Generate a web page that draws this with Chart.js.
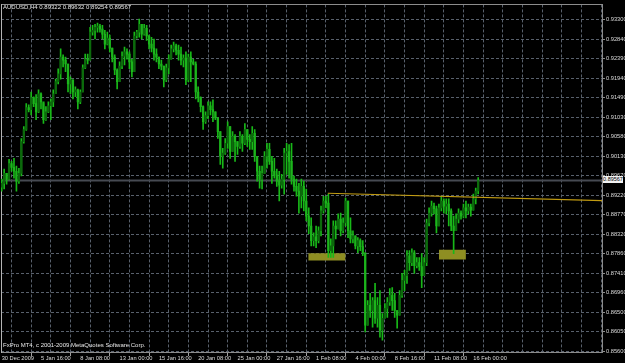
<!DOCTYPE html>
<html>
<head>
<meta charset="utf-8">
<script src="https://cdn.jsdelivr.net/npm/chart.js@4.4.1/dist/chart.umd.min.js"></script>
<style>
  html, body { margin: 0; padding: 0; background: #000; }
  #wrap { position: relative; width: 625px; height: 363px; background: #000; overflow: hidden; }
  #wrap canvas { position: absolute; left: 0; top: 0; }
  .txt { position: absolute; font-family: "Liberation Sans", Arial, sans-serif; font-size: 6px; line-height: 7px; color: #e6e6e6; white-space: nowrap; }
  #bidbox { position: absolute; left: 603px; top: 175.5px; width: 20px; height: 7px; background: #f2f2f2; color: #000; font-family: "Liberation Sans", Arial, sans-serif; font-size: 5.5px; line-height: 7px; text-align: center; }
</style>
</head>
<body>
<div id="wrap">
  <canvas id="c" width="625" height="363"></canvas>
  <div class="txt" style="left:3px;top:4px;">AUDUSD,H4 0.89322 0.89632 0.89254 0.89567</div>
  <div class="txt" style="left:3px;top:341.5px;">FxPro MT4, c 2001-2009 MetaQuotes Software Corp.</div>
  <div id="bidbox">0.89567</div>
</div>
<script>
// ---- data ----
const X_LABELS = ["30 Dec 2009","5 Jan 16:00","8 Jan 08:00","13 Jan 00:00","15 Jan 16:00","20 Jan 08:00","25 Jan 00:00","27 Jan 16:00","1 Feb 08:00","4 Feb 00:00","8 Feb 16:00","11 Feb 08:00","16 Feb 00:00"];
const PRICE_LABELS = ["0.85600","0.86050","0.86500","0.86960","0.87410","0.87860","0.88320","0.88770","0.89220","0.89670","0.90130","0.90580","0.91030","0.91490","0.91940","0.92390","0.92840","0.93300"];
const PRICE_LO = 0.856, PRICE_HI = 0.933;
const BID = 0.89567;

const OPEN = [0.8941,0.8950,0.8973,0.8960,0.8996,0.8987,0.8978,0.8955,0.8973,0.9047,
0.9075,0.9126,0.9121,0.9149,0.9135,0.9116,0.9158,0.9139,0.9098,0.9116,
0.9130,0.9139,0.9158,0.9186,0.9204,0.9243,0.9236,0.9227,0.9181,0.9190,
0.9162,0.9167,0.9139,0.9162,0.9218,0.9238,0.9236,0.9301,0.9305,0.9312,
0.9315,0.9308,0.9296,0.9273,0.9287,0.9264,0.9243,0.9213,0.9186,0.9222,
0.9245,0.9255,0.9250,0.9232,0.9209,0.9292,0.9301,0.9319,0.9296,0.9310,
0.9292,0.9273,0.9264,0.9250,0.9243,0.9227,0.9222,0.9190,0.9218,0.9238,
0.9262,0.9269,0.9259,0.9250,0.9236,0.9241,0.9190,0.9243,0.9232,0.9227,
0.9162,0.9149,0.9128,0.9093,0.9107,0.9130,0.9121,0.9116,0.9102,0.9070,
0.9013,0.9020,0.9043,0.9082,0.9024,0.9059,0.9047,0.9036,0.9059,0.9043,
0.9075,0.9052,0.9047,0.9066,0.9013,0.8978,0.8960,0.8973,0.9013,0.9029,
0.9001,0.8978,0.8969,0.8955,0.8946,0.8960,0.9020,0.9024,0.9001,0.8960,
0.8943,0.8932,0.8920,0.8943,0.8909,0.8874,0.8851,0.8817,0.8826,0.8817,
0.8840,0.8886,0.8909,0.8904,0.8794,0.8805,0.8851,0.8844,0.8867,0.8840,
0.8858,0.8909,0.8840,0.8821,0.8828,0.8805,0.8817,0.8803,0.8789,0.8621,
0.8667,0.8655,0.8678,0.8637,0.8667,0.8609,0.8637,0.8660,0.8674,0.8690,
0.8678,0.8655,0.8644,0.8690,0.8725,0.8736,0.8782,0.8766,0.8789,0.8759,
0.8766,0.8757,0.8736,0.8766,0.8858,0.8881,0.8897,0.8891,0.8851,0.8893,
0.8909,0.8897,0.8902,0.8886,0.8851,0.8840,0.8867,0.8881,0.8874,0.8893,
0.8886,0.8895,0.8888,0.8914,0.89322];

const HIGH = [0.8960,0.8983,0.8973,0.9006,0.9001,0.9008,0.8990,0.8985,0.9054,0.9082,
0.9135,0.9132,0.9162,0.9151,0.9156,0.9167,0.9160,0.9135,0.9128,0.9139,
0.9146,0.9167,0.9192,0.9216,0.9262,0.9248,0.9243,0.9227,0.9197,0.9190,
0.9174,0.9169,0.9167,0.9225,0.9250,0.9250,0.9312,0.9317,0.9319,0.9322,
0.9319,0.9317,0.9305,0.9301,0.9294,0.9264,0.9248,0.9216,0.9232,0.9255,
0.9266,0.9262,0.9255,0.9238,0.9301,0.9305,0.9331,0.9319,0.9319,0.9317,
0.9294,0.9289,0.9285,0.9262,0.9243,0.9236,0.9222,0.9227,0.9248,0.9271,
0.9278,0.9273,0.9271,0.9266,0.9248,0.9255,0.9250,0.9255,0.9238,0.9232,
0.9174,0.9151,0.9130,0.9116,0.9139,0.9139,0.9144,0.9116,0.9102,0.9070,
0.9031,0.9054,0.9093,0.9082,0.9070,0.9063,0.9047,0.9070,0.9063,0.9089,
0.9075,0.9063,0.9082,0.9075,0.9013,0.8990,0.8990,0.9024,0.9043,0.9043,
0.9013,0.9008,0.8983,0.8978,0.8971,0.9031,0.9043,0.9040,0.9043,0.8967,
0.8960,0.8950,0.8960,0.8955,0.8937,0.8893,0.8870,0.8835,0.8851,0.8849,
0.8897,0.8920,0.8920,0.8925,0.8821,0.8863,0.8863,0.8879,0.8881,0.8870,
0.8916,0.8909,0.8870,0.8840,0.8828,0.8824,0.8821,0.8817,0.8789,0.8678,
0.8695,0.8685,0.8718,0.8685,0.8701,0.8648,0.8671,0.8685,0.8706,0.8708,
0.8695,0.8655,0.8701,0.8741,0.8748,0.8794,0.8794,0.8798,0.8794,0.8778,
0.8778,0.8787,0.8778,0.8867,0.8893,0.8909,0.8904,0.8897,0.8902,0.8920,
0.8914,0.8914,0.8914,0.8891,0.8874,0.8879,0.8891,0.8886,0.8902,0.8909,
0.8902,0.8902,0.8925,0.8939,0.89632];

const LOW = [0.8932,0.8937,0.8948,0.8958,0.8978,0.8962,0.8932,0.8950,0.8967,0.9043,
0.9073,0.9116,0.9109,0.9128,0.9098,0.9114,0.9123,0.9089,0.9096,0.9114,
0.9098,0.9128,0.9158,0.9181,0.9192,0.9220,0.9209,0.9162,0.9158,0.9146,
0.9151,0.9123,0.9135,0.9162,0.9216,0.9227,0.9236,0.9294,0.9285,0.9301,
0.9301,0.9285,0.9262,0.9271,0.9255,0.9232,0.9202,0.9169,0.9186,0.9216,
0.9225,0.9238,0.9216,0.9197,0.9209,0.9287,0.9289,0.9285,0.9294,0.9282,
0.9262,0.9255,0.9236,0.9232,0.9216,0.9213,0.9174,0.9186,0.9204,0.9238,
0.9255,0.9248,0.9236,0.9225,0.9220,0.9179,0.9186,0.9186,0.9225,0.9146,
0.9139,0.9116,0.9075,0.9089,0.9100,0.9109,0.9093,0.9098,0.9054,0.8994,
0.8985,0.9017,0.9031,0.9008,0.9024,0.9001,0.9017,0.9031,0.9024,0.9040,
0.9036,0.9029,0.9029,0.9001,0.8955,0.8939,0.8937,0.8973,0.8985,0.8994,
0.8950,0.8962,0.8943,0.8909,0.8939,0.8925,0.8971,0.8962,0.8948,0.8932,
0.8920,0.8881,0.8893,0.8886,0.8863,0.8833,0.8805,0.8805,0.8801,0.8812,
0.8828,0.8881,0.8893,0.8778,0.8778,0.8778,0.8821,0.8844,0.8828,0.8835,
0.8851,0.8824,0.8812,0.8812,0.8798,0.8789,0.8794,0.8782,0.8605,0.8621,
0.8639,0.8616,0.8625,0.8616,0.8593,0.8586,0.8637,0.8639,0.8667,0.8655,
0.8639,0.8614,0.8644,0.8685,0.8701,0.8718,0.8748,0.8759,0.8741,0.8754,
0.8748,0.8708,0.8736,0.8759,0.8851,0.8874,0.8879,0.8835,0.8851,0.8886,
0.8881,0.8879,0.8851,0.8840,0.8787,0.8840,0.8858,0.8867,0.8870,0.8870,
0.8879,0.8874,0.8888,0.8902,0.89254];

const CLOSE = [0.8950,0.8973,0.8960,0.8996,0.8987,0.8978,0.8955,0.8973,0.9047,0.9075,
0.9126,0.9121,0.9149,0.9135,0.9116,0.9158,0.9139,0.9098,0.9116,0.9130,
0.9139,0.9158,0.9186,0.9204,0.9243,0.9236,0.9227,0.9181,0.9190,0.9162,
0.9167,0.9139,0.9162,0.9218,0.9238,0.9236,0.9301,0.9305,0.9312,0.9315,
0.9308,0.9296,0.9273,0.9287,0.9264,0.9243,0.9213,0.9186,0.9222,0.9245,
0.9255,0.9250,0.9232,0.9209,0.9292,0.9301,0.9319,0.9296,0.9310,0.9292,
0.9273,0.9264,0.9250,0.9243,0.9227,0.9222,0.9190,0.9218,0.9238,0.9262,
0.9269,0.9259,0.9250,0.9236,0.9241,0.9190,0.9243,0.9232,0.9227,0.9162,
0.9149,0.9128,0.9093,0.9107,0.9130,0.9121,0.9116,0.9102,0.9070,0.9013,
0.9020,0.9043,0.9082,0.9024,0.9059,0.9047,0.9036,0.9059,0.9043,0.9075,
0.9052,0.9047,0.9066,0.9013,0.8978,0.8960,0.8973,0.9013,0.9029,0.9001,
0.8978,0.8969,0.8955,0.8946,0.8960,0.9020,0.9024,0.9001,0.8960,0.8943,
0.8932,0.8920,0.8943,0.8909,0.8874,0.8851,0.8817,0.8826,0.8817,0.8840,
0.8886,0.8909,0.8904,0.8794,0.8805,0.8851,0.8844,0.8867,0.8840,0.8858,
0.8909,0.8840,0.8821,0.8828,0.8805,0.8817,0.8803,0.8789,0.8621,0.8667,
0.8655,0.8678,0.8637,0.8667,0.8609,0.8637,0.8660,0.8674,0.8690,0.8678,
0.8655,0.8644,0.8690,0.8725,0.8736,0.8782,0.8766,0.8789,0.8759,0.8766,
0.8757,0.8736,0.8766,0.8858,0.8881,0.8897,0.8891,0.8851,0.8893,0.8909,
0.8897,0.8902,0.8886,0.8851,0.8840,0.8867,0.8881,0.8874,0.8893,0.8886,
0.8895,0.8888,0.8914,0.8932,0.89567];

// trend line (bar index, price) and the two marked zones
const TREND_X = [132.8, 244.4];
const TREND_Y = [0.8927, 0.8910];
const ZONE_X0 = [124.8, 178.0];
const ZONE_X1 = [140.0, 189.0];
const ZONE_TOP = [0.8788, 0.8796];
const ZONE_BOTTOM = [0.8771, 0.8773];

// ---- styles ----
const X_MIN = -0.285, X_MAX = 244.4;
const GRID = '#58606c';
const FRAME = '#8c8c8c';
const TXT = '#dcdcdc';
const WICK = '#18b818';
const BULL = '#0c6a0c';
const BEAR = '#1cb41c';
const ZONE = '#8e8e22';
const FONT = { family: 'Liberation Sans', size: 5.7 };

const idx = OPEN.map((_, i) => i);
const datasets = [];

for (let k = 0; k < ZONE_X0.length; k++) {
  datasets.push({
    type: 'line', xAxisID: 'x', yAxisID: 'y', order: 20,
    data: [{x: ZONE_X0[k], y: ZONE_TOP[k]}, {x: ZONE_X1[k], y: ZONE_TOP[k]}],
    borderWidth: 0, pointRadius: 0, fill: '+1', backgroundColor: ZONE, borderColor: ZONE
  });
  datasets.push({
    type: 'line', xAxisID: 'x', yAxisID: 'y', order: 20,
    data: [{x: ZONE_X0[k], y: ZONE_BOTTOM[k]}, {x: ZONE_X1[k], y: ZONE_BOTTOM[k]}],
    borderWidth: 0, pointRadius: 0, fill: false, borderColor: ZONE
  });
}
datasets.push({
  type: 'line', xAxisID: 'x', yAxisID: 'y', order: 15,
  data: [{x: X_MIN, y: BID}, {x: X_MAX, y: BID}],
  borderColor: '#464a52', borderWidth: 2, pointRadius: 0, fill: false
});
datasets.push({
  type: 'bar', xAxisID: 'x', yAxisID: 'y', order: 10, grouped: false,
  data: idx.map(i => ({x: i, y: [LOW[i], HIGH[i]]})),
  backgroundColor: WICK, barThickness: 1, borderWidth: 0
});
datasets.push({
  type: 'bar', xAxisID: 'x', yAxisID: 'y', order: 9, grouped: false,
  data: idx.map(i => ({x: i, y: [OPEN[i], CLOSE[i]]})),
  backgroundColor: idx.map(i => CLOSE[i] >= OPEN[i] ? BULL : BEAR),
  barThickness: 1.6, borderWidth: 0, minBarLength: 1
});
datasets.push({
  type: 'line', xAxisID: 'x', yAxisID: 'y', order: 1,
  data: TREND_X.map((x, k) => ({x, y: TREND_Y[k]})),
  borderColor: '#c29c12', borderWidth: 1.2, pointRadius: 0, fill: false
});

new Chart(document.getElementById('c'), {
  type: 'bar',
  data: { datasets },
  options: {
    responsive: false,
    devicePixelRatio: 1,
    animation: false,
    layout: { padding: { top: 2, left: 1, right: 0, bottom: 0 } },
    plugins: { legend: { display: false }, tooltip: { enabled: false }, title: { display: false } },
    scales: {
      x: {
        type: 'linear', position: 'bottom', min: X_MIN, max: X_MAX, offset: false,
        afterBuildTicks: s => { const t = []; for (let v = 0; v <= 240; v += 8) t.push({value: v}); s.ticks = t; },
        afterFit: s => { s.height = 11; },
        ticks: {
          autoSkip: false, maxRotation: 0, minRotation: 0, align: 'start', padding: -1,
          color: TXT, font: FONT,
          callback: v => (v % 16 === 0 && X_LABELS[v / 16]) ? X_LABELS[v / 16] : ''
        },
        grid: {
          color: GRID, lineWidth: 1, drawTicks: true, tickLength: 4, tickWidth: 1,
          tickColor: c => (c.tick && c.tick.value % 16 === 0 && X_LABELS[c.tick.value / 16]) ? '#a0a0a0' : 'rgba(0,0,0,0)'
        },
        border: { display: true, color: FRAME, width: 1, dash: [3, 2] }
      },
      y: {
        type: 'linear', position: 'right', min: 0.855862, max: 0.936526,
        afterBuildTicks: s => {
          s.ticks = PRICE_LABELS.map((_, k) => ({value: PRICE_LO + k * (PRICE_HI - PRICE_LO) / (PRICE_LABELS.length - 1)}));
        },
        afterFit: s => { s.width = 23; },
        ticks: {
          autoSkip: false, color: TXT, font: FONT, padding: 1,
          callback: (v, i) => PRICE_LABELS[i]
        },
        grid: { color: GRID, lineWidth: 1, drawTicks: true, tickLength: 3, tickColor: FRAME },
        border: { display: true, color: FRAME, width: 1, dash: [3, 2] }
      },
      xTop: {
        type: 'linear', position: 'top', display: true,
        ticks: { display: false }, grid: { display: false, drawTicks: false },
        border: { display: true, color: FRAME, width: 1 },
        afterFit: s => { s.height = 0; }
      },
      yLeft: {
        type: 'linear', position: 'left', display: true,
        ticks: { display: false }, grid: { display: false, drawTicks: false },
        border: { display: true, color: '#b4b4b4', width: 1 },
        afterFit: s => { s.width = 0; }
      }
    }
  }
});
</script>
</body>
</html>
